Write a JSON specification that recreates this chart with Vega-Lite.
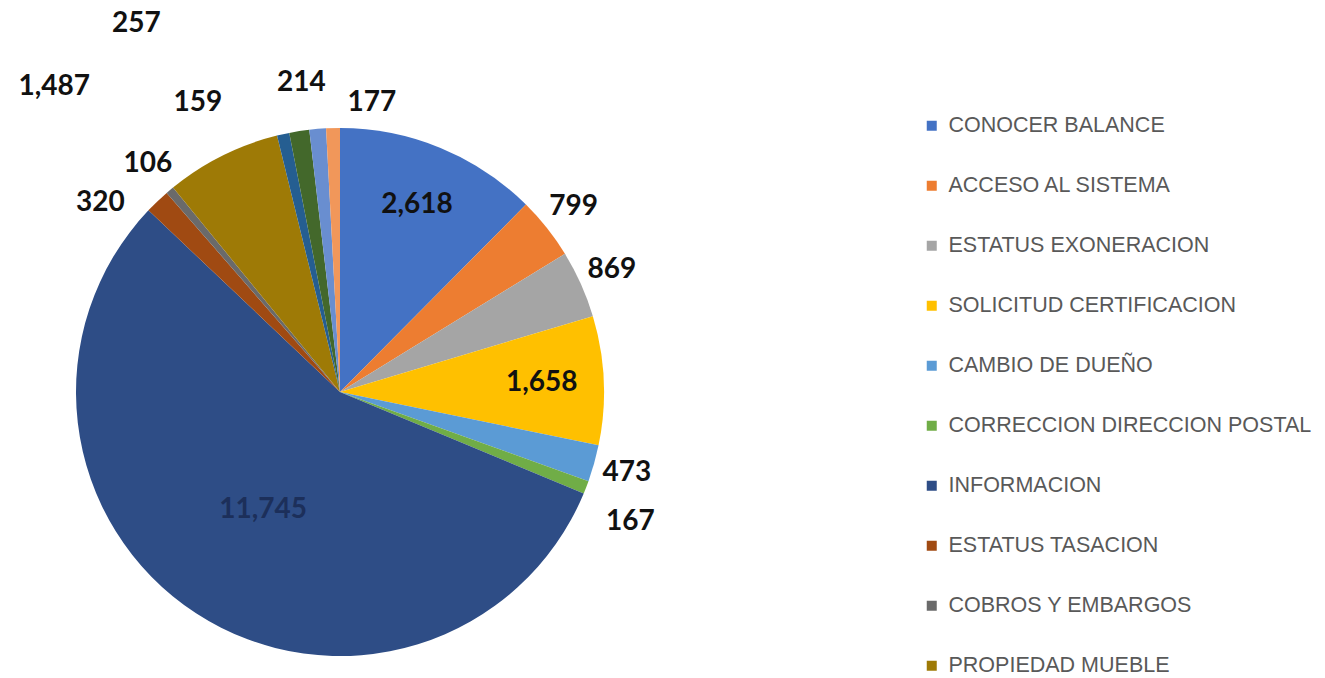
{
  "$schema": "https://vega.github.io/schema/vega-lite/v6.json",
  "autosize": {"type": "none"},
  "padding": {"left": 0, "top": 106, "right": 645, "bottom": 0},
  "width": 680,
  "height": 572,
  "background": "white",
  "config": {"view": {"stroke": null}, "text": {"font": "Lato", "fontWeight": "bold", "fontSize": 28, "color": "#111111"}},
  "data": {
    "values": [
      {"orden": 1, "categoria": "CONOCER BALANCE", "valor": 2618},
      {"orden": 2, "categoria": "ACCESO AL SISTEMA", "valor": 799},
      {"orden": 3, "categoria": "ESTATUS EXONERACION", "valor": 869},
      {"orden": 4, "categoria": "SOLICITUD CERTIFICACION", "valor": 1658},
      {"orden": 5, "categoria": "CAMBIO DE DUEÑO", "valor": 473},
      {"orden": 6, "categoria": "CORRECCION DIRECCION POSTAL", "valor": 167},
      {"orden": 7, "categoria": "INFORMACION", "valor": 11745},
      {"orden": 8, "categoria": "ESTATUS TASACION", "valor": 320},
      {"orden": 9, "categoria": "COBROS Y EMBARGOS", "valor": 106},
      {"orden": 10, "categoria": "PROPIEDAD MUEBLE", "valor": 1487},
      {"orden": 11, "categoria": "CATEGORIA 11", "valor": 159},
      {"orden": 12, "categoria": "CATEGORIA 12", "valor": 257},
      {"orden": 13, "categoria": "CATEGORIA 13", "valor": 214},
      {"orden": 14, "categoria": "CATEGORIA 14", "valor": 177}
    ]
  },
  "encoding": {
    "theta": {"field": "valor", "type": "quantitative", "stack": true},
    "order": {"field": "orden", "type": "quantitative"}
  },
  "layer": [
    {
      "mark": {"type": "arc", "outerRadius": 264},
      "encoding": {
        "color": {
          "field": "categoria",
          "type": "nominal",
          "scale": {
            "domain": ["CONOCER BALANCE", "ACCESO AL SISTEMA", "ESTATUS EXONERACION", "SOLICITUD CERTIFICACION", "CAMBIO DE DUEÑO", "CORRECCION DIRECCION POSTAL", "INFORMACION", "ESTATUS TASACION", "COBROS Y EMBARGOS", "PROPIEDAD MUEBLE", "CATEGORIA 11", "CATEGORIA 12", "CATEGORIA 13", "CATEGORIA 14"],
            "range": ["#4472C4", "#ED7D31", "#A5A5A5", "#FFC000", "#5B9BD5", "#70AD47", "#2E4D86", "#A04A12", "#6A6A6A", "#9E7A06", "#255E91", "#43682B", "#698ED0", "#F1975A"]
          },
          "legend": {
            "values": ["CONOCER BALANCE", "ACCESO AL SISTEMA", "ESTATUS EXONERACION", "SOLICITUD CERTIFICACION", "CAMBIO DE DUEÑO", "CORRECCION DIRECCION POSTAL", "INFORMACION", "ESTATUS TASACION", "COBROS Y EMBARGOS", "PROPIEDAD MUEBLE"],
            "title": null,
            "orient": "none",
            "legendX": 921,
            "legendY": 9,
            "symbolType": "square",
            "symbolSize": 100,
            "symbolStrokeWidth": 0,
            "labelFont": "Liberation Sans",
            "labelFontSize": 21.5,
            "labelColor": "#595959",
            "labelOffset": 6,
            "labelLimit": 500,
            "rowPadding": 37,
            "padding": 0
          }
        }
      }
    },
    {
      "mark": {"type": "text", "radius": 202},
      "encoding": {
        "text": {"condition": {"test": "indexof(['CONOCER BALANCE','SOLICITUD CERTIFICACION'], datum.categoria) >= 0", "field": "valor", "type": "quantitative", "format": ","}, "value": ""}
      }
    },
    {
      "mark": {"type": "text", "radius": 141, "color": "#1c2f5a"},
      "encoding": {
        "text": {"condition": {"test": "datum.categoria === 'INFORMACION'", "field": "valor", "type": "quantitative", "format": ","}, "value": ""}
      }
    },
    {
      "mark": {"type": "text", "radius": 298},
      "encoding": {
        "text": {"condition": {"test": "indexof(['ACCESO AL SISTEMA','ESTATUS EXONERACION','CAMBIO DE DUEÑO','COBROS Y EMBARGOS'], datum.categoria) >= 0", "field": "valor", "type": "quantitative", "format": ","}, "value": ""}
      }
    },
    {
      "mark": {"type": "text", "radius": 318, "thetaOffset": 0.05},
      "encoding": {
        "text": {"condition": {"test": "datum.categoria === 'CORRECCION DIRECCION POSTAL'", "field": "valor", "type": "quantitative", "format": ","}, "value": ""}
      }
    },
    {
      "mark": {"type": "text", "radius": 305, "thetaOffset": -0.14},
      "encoding": {
        "text": {"condition": {"test": "datum.categoria === 'ESTATUS TASACION'", "field": "valor", "type": "quantitative", "format": ","}, "value": ""}
      }
    },
    {
      "mark": {"type": "text", "radius": 418, "thetaOffset": -0.29},
      "encoding": {
        "text": {"condition": {"test": "datum.categoria === 'PROPIEDAD MUEBLE'", "field": "valor", "type": "quantitative", "format": ","}, "value": ""}
      }
    },
    {
      "mark": {"type": "text", "radius": 322, "thetaOffset": -0.24},
      "encoding": {
        "text": {"condition": {"test": "datum.categoria === 'CATEGORIA 11'", "field": "valor", "type": "quantitative", "format": ","}, "value": ""}
      }
    },
    {
      "mark": {"type": "text", "radius": 421, "thetaOffset": -0.35},
      "encoding": {
        "text": {"condition": {"test": "datum.categoria === 'CATEGORIA 12'", "field": "valor", "type": "quantitative", "format": ","}, "value": ""}
      }
    },
    {
      "mark": {"type": "text", "radius": 311, "thetaOffset": -0.04},
      "encoding": {
        "text": {"condition": {"test": "datum.categoria === 'CATEGORIA 13'", "field": "valor", "type": "quantitative", "format": ","}, "value": ""}
      }
    },
    {
      "mark": {"type": "text", "radius": 291, "thetaOffset": 0.136},
      "encoding": {
        "text": {"condition": {"test": "datum.categoria === 'CATEGORIA 14'", "field": "valor", "type": "quantitative", "format": ","}, "value": ""}
      }
    }
  ]
}
